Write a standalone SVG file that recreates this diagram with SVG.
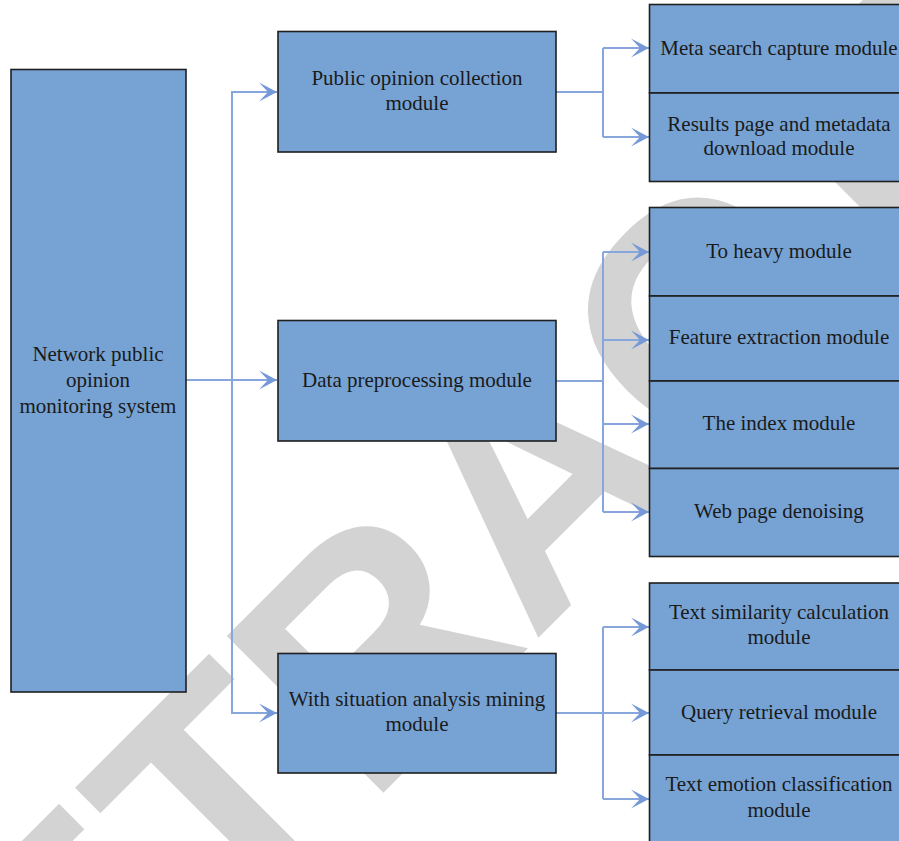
<svg xmlns="http://www.w3.org/2000/svg" width="899" height="841" viewBox="0 0 899 841">
  <style>
    .box { fill: #77a3d4; stroke: #1f1f1f; stroke-width: 1.6; }
    .lbl { font-family: "Liberation Serif", "Times New Roman", serif; font-size: 21px; fill: #1a1a1a; text-anchor: middle; }
    .wire { fill: none; stroke: #86a6dc; stroke-width: 2; }
    .mark { font-family: "Liberation Sans", Arial, sans-serif; font-weight: bold; font-size: 322px; fill: #d3d3d3; }
  </style>
  <defs>
    <marker id="arrow" viewBox="0 0 20 20" refX="19" refY="10" markerWidth="20" markerHeight="20" markerUnits="userSpaceOnUse" orient="auto">
      <path d="M19,10 L1,0.5 L10,10 L1,19.5 Z" fill="#7598d6"/>
    </marker>
  </defs>

  <rect width="899" height="841" fill="#ffffff"/>

  <!-- background stamp -->
  <text class="mark" transform="translate(-87.2,1263.3) rotate(-45)" x="0" y="0">RETRACTED</text>

  <!-- connectors -->
  <g id="connectors">
    <path class="wire" d="M186,380 H277" marker-end="url(#arrow)"/>
    <path class="wire" d="M277,92 H232 V713 H277" marker-end="url(#arrow)"/>
    <path class="wire" d="M232,92 H277" marker-end="url(#arrow)"/>

    <path class="wire" d="M556,92 H603"/>
    <path class="wire" d="M603,48 V137"/>
    <path class="wire" d="M603,48 H649" marker-end="url(#arrow)"/>
    <path class="wire" d="M603,137 H649" marker-end="url(#arrow)"/>

    <path class="wire" d="M556,381 H603"/>
    <path class="wire" d="M603,252 V512"/>
    <path class="wire" d="M603,252 H649" marker-end="url(#arrow)"/>
    <path class="wire" d="M603,340 H649" marker-end="url(#arrow)"/>
    <path class="wire" d="M603,424 H649" marker-end="url(#arrow)"/>
    <path class="wire" d="M603,512 H649" marker-end="url(#arrow)"/>

    <path class="wire" d="M603,627 V799"/>
    <path class="wire" d="M556,713 H649" marker-end="url(#arrow)"/>
    <path class="wire" d="M603,627 H649" marker-end="url(#arrow)"/>
    <path class="wire" d="M603,799 H649" marker-end="url(#arrow)"/>
  </g>

  <!-- root -->
  <g id="network-system">
    <rect class="box" x="11" y="69.5" width="175" height="622.5"/>
    <text class="lbl" x="98" y="361">Network public</text>
    <text class="lbl" x="98" y="387">opinion</text>
    <text class="lbl" x="98" y="413">monitoring system</text>
  </g>

  <!-- second level -->
  <g id="collection">
    <rect class="box" x="278" y="31.5" width="278" height="120.5"/>
    <text class="lbl" x="417" y="85">Public opinion collection</text>
    <text class="lbl" x="417" y="110">module</text>
  </g>
  <g id="preprocessing">
    <rect class="box" x="278" y="320.5" width="278" height="120.5"/>
    <text class="lbl" x="417" y="387">Data preprocessing module</text>
  </g>
  <g id="mining">
    <rect class="box" x="278" y="653.5" width="278" height="119.5"/>
    <text class="lbl" x="417" y="706">With situation analysis mining</text>
    <text class="lbl" x="417" y="731">module</text>
  </g>

  <!-- third level -->
  <g id="meta-search">
    <rect class="box" x="649.5" y="4.5" width="260" height="88.5"/>
    <text class="lbl" x="779" y="55">Meta search capture module</text>
  </g>
  <g id="results-download">
    <rect class="box" x="649.5" y="93" width="260" height="88.5"/>
    <text class="lbl" x="779" y="131">Results page and metadata</text>
    <text class="lbl" x="779" y="155">download module</text>
  </g>
  <g id="dedup">
    <rect class="box" x="649.5" y="207.5" width="260" height="88.5"/>
    <text class="lbl" x="779" y="258">To heavy module</text>
  </g>
  <g id="feature-extraction">
    <rect class="box" x="649.5" y="296" width="260" height="85"/>
    <text class="lbl" x="779" y="344">Feature extraction module</text>
  </g>
  <g id="index">
    <rect class="box" x="649.5" y="381" width="260" height="87.5"/>
    <text class="lbl" x="779" y="430">The index module</text>
  </g>
  <g id="denoising">
    <rect class="box" x="649.5" y="468.5" width="260" height="88"/>
    <text class="lbl" x="779" y="518">Web page denoising</text>
  </g>
  <g id="similarity">
    <rect class="box" x="649.5" y="583" width="260" height="87"/>
    <text class="lbl" x="779" y="619">Text similarity calculation</text>
    <text class="lbl" x="779" y="644">module</text>
  </g>
  <g id="query-retrieval">
    <rect class="box" x="649.5" y="670" width="260" height="85"/>
    <text class="lbl" x="779" y="719">Query retrieval module</text>
  </g>
  <g id="emotion">
    <rect class="box" x="649.5" y="755" width="260" height="100"/>
    <text class="lbl" x="779" y="791">Text emotion classification</text>
    <text class="lbl" x="779" y="817">module</text>
  </g>
</svg>
